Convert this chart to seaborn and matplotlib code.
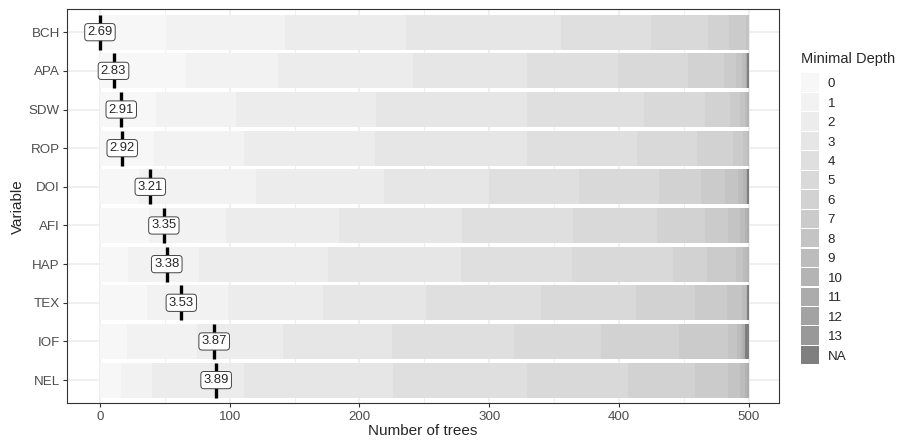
import numpy as np
import pandas as pd
import matplotlib
matplotlib.use("Agg")
import matplotlib.pyplot as plt
from matplotlib.patches import Rectangle
import seaborn as sns

# data
variables = ["BCH", "APA", "SDW", "ROP", "DOI", "AFI", "HAP", "TEX", "IOF", "NEL"]
mean_depth = [2.69, 2.83, 2.91, 2.92, 3.21, 3.35, 3.38, 3.53, 3.87, 3.89]
depth_levels = [str(d) for d in range(14)] + ["NA"]

# number of trees per minimal depth, columns follow depth_levels
trees_bch = [51, 92, 93, 119, 70, 44, 16, 13, 2, 0, 0, 0, 0, 0, 0]
trees_apa = [66, 71, 104, 88, 70, 54, 28, 9, 5, 2, 1, 1, 0, 0, 1]
trees_sdw = [43, 62, 108, 116, 90, 47, 20, 7, 4, 2, 1, 0, 0, 0, 0]
trees_rop = [42, 69, 101, 117, 85, 46, 28, 8, 3, 1, 0, 0, 0, 0, 0]
trees_doi = [30, 90, 99, 81, 69, 62, 32, 19, 10, 4, 2, 1, 0, 0, 1]
trees_afi = [38, 59, 87, 95, 86, 64, 37, 18, 9, 4, 2, 1, 0, 0, 0]
trees_hap = [22, 54, 100, 102, 86, 78, 26, 22, 6, 3, 1, 0, 0, 0, 0]
trees_tex = [36, 63, 73, 79, 89, 73, 46, 24, 12, 3, 1, 0, 0, 0, 1]
trees_iof = [21, 54, 66, 84, 94, 67, 60, 38, 7, 3, 2, 1, 0, 0, 3]
trees_nel = [16, 24, 71, 115, 103, 78, 52, 25, 9, 4, 2, 1, 0, 0, 0]

n_trees = 500
max_mean_all = 9.39   # deepest mean minimal depth in the whole forest

counts = [trees_bch, trees_apa, trees_sdw, trees_rop, trees_doi,
          trees_afi, trees_hap, trees_tex, trees_iof, trees_nel]

rows = []
for var, row in zip(variables, counts):
    for lvl, n in zip(depth_levels, row):
        rows.append({"variable": var, "depth": lvl, "trees": n})
df = pd.DataFrame(rows)
df["depth"] = pd.Categorical(df["depth"], categories=depth_levels, ordered=True)
df = df.sort_values(["variable", "depth"])
df["cum"] = df.groupby("variable", observed=True)["trees"].cumsum()

# grey scale like scale_fill_grey(start=0.97, end=0.6), NA in grey50
g = np.linspace(0.97 ** 2.2, 0.6 ** 2.2, 14) ** (1 / 2.2)
palette = [matplotlib.colors.to_hex((v, v, v)) for v in g] + ["#7F7F7F"]
colors = dict(zip(depth_levels, palette))

sns.set_style("whitegrid")
plt.rcParams["font.family"] = ["Liberation Sans", "DejaVu Sans"]

W, H = 897, 444
fig = plt.figure(figsize=(W / 100, H / 100), dpi=100)
ax = fig.add_axes([67 / W, 1 - 403.3 / H, (779 - 67) / W, (403.3 - 9) / H])

# stacked bars: draw cumulative totals from the deepest level down
for lvl in depth_levels[::-1]:
    sub = df[df["depth"] == lvl]
    sns.barplot(data=sub, x="cum", y="variable", order=variables, orient="h",
                color=colors[lvl], saturation=1, width=0.9, linewidth=0,
                errorbar=None, ax=ax)

# mean minimal depth markers
mean_arr = np.array(mean_depth)
label_x = (mean_arr - mean_arr.min()) / (max_mean_all - mean_arr.min()) * n_trees
ypos = np.arange(len(variables))
ax.vlines(label_x, ypos - 0.45, ypos + 0.45, colors="black", lw=2.4, zorder=4)
for x, y, m in zip(label_x, ypos, mean_depth):
    ax.text(x, y, f"{m:.2f}", ha="center", va="center", fontsize=9.4, zorder=5,
            bbox=dict(boxstyle="round,pad=0.2,rounding_size=0.25", fc="white",
                      ec="#444444", lw=0.7))

ax.set_xlim(-25.4, 523.4)
ax.set_ylim(9.6, -0.6)
ax.set_xticks(range(0, 501, 100))
ax.set_xticks(range(50, 501, 100), minor=True)
ax.set_axisbelow(True)
ax.grid(True, which="major", axis="both", color="#EBEBEB", lw=1.1)
ax.grid(True, which="minor", axis="x", color="#EBEBEB", lw=0.55)
for s in ax.spines.values():
    s.set_visible(True)
    s.set_color("#333333")
    s.set_linewidth(0.8)
ax.tick_params(axis="both", which="major", length=2.7, width=0.8, color="#333333",
               labelsize=9.6, labelcolor="#4D4D4D", pad=2.5, bottom=True, left=True)
ax.tick_params(axis="x", which="minor", length=0)
ax.set_xlabel("Number of trees", fontsize=11, labelpad=1)
ax.set_ylabel("Variable", fontsize=11, labelpad=3)

# legend, laid out by hand in figure pixels
key_x, key_top, key_size, key_step = 800.7, 73.5, 18.3, 19.46
fig.text(key_x / W, 1 - 58.5 / H, "Minimal Depth", fontsize=10.5,
         ha="left", va="center")
for i, lvl in enumerate(depth_levels):
    top = key_top + i * key_step
    fig.add_artist(Rectangle((key_x / W, 1 - (top + key_size) / H),
                             key_size / W, key_size / H,
                             transform=fig.transFigure, facecolor=colors[lvl],
                             edgecolor="none"))
    fig.text(827.7 / W, 1 - (top + key_size / 2) / H, lvl, fontsize=9.6,
             ha="left", va="center_baseline")

fig.savefig("out.png", dpi=100)
